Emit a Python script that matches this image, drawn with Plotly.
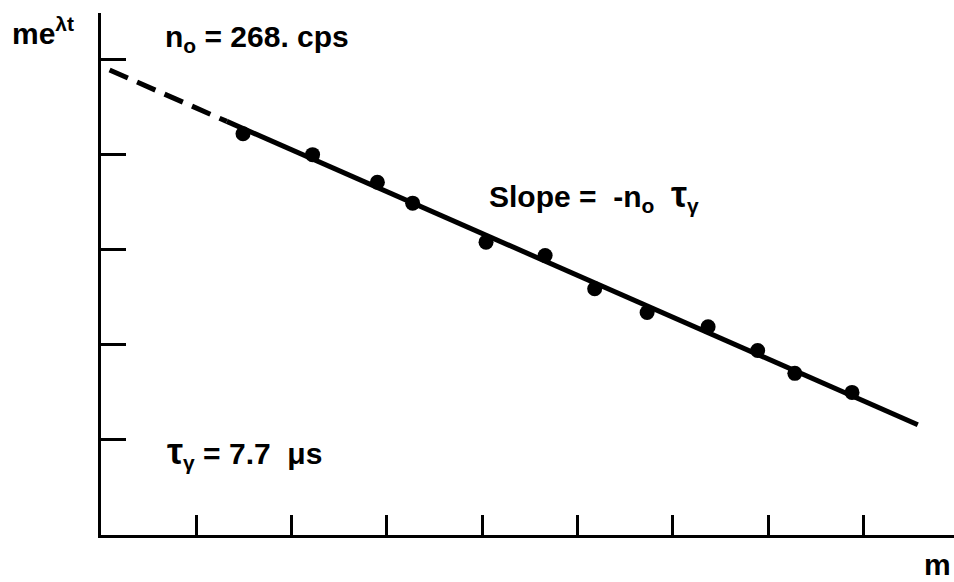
import plotly.graph_objects as go

# measured points (m on x, m e^{λt} on y, in units of tick spacing)
m_vals = [1.49, 2.22, 2.90, 3.27, 4.04, 4.66, 5.18, 5.73, 6.37, 6.89, 7.28, 7.88]
me_vals = [4.22, 4.00, 3.71, 3.49, 3.08, 2.94, 2.59, 2.34, 2.19, 1.94, 1.70, 1.50]

# fitted line: dashed extrapolation then solid fit
dash_x = [0.09, 1.32]
dash_y = [4.89, 4.35]
fit_x = [1.32, 8.57]
fit_y = [4.35, 1.16]

x_ticks = [1, 2, 3, 4, 5, 6, 7, 8]
y_ticks = [1, 2, 3, 4, 5]

FONT = "Liberation Sans"

fig = go.Figure()
fig.add_trace(go.Scatter(x=dash_x, y=dash_y, mode="lines",
                         line=dict(color="black", width=5, dash="20px,10px"),
                         showlegend=False, hoverinfo="skip"))
fig.add_trace(go.Scatter(x=fit_x, y=fit_y, mode="lines",
                         line=dict(color="black", width=5),
                         showlegend=False, hoverinfo="skip"))
fig.add_trace(go.Scatter(x=m_vals, y=me_vals, mode="markers",
                         marker=dict(color="black", size=15),
                         showlegend=False, hoverinfo="skip"))

fig.update_xaxes(range=[0, 8.95], showline=True, linecolor="black", linewidth=3,
                 ticks="inside", tickvals=x_ticks, ticklen=20, tickwidth=3,
                 tickcolor="black", showticklabels=False, showgrid=False,
                 zeroline=False)
fig.update_yaxes(range=[0, 5.49], showline=True, linecolor="black", linewidth=3,
                 ticks="inside", tickvals=y_ticks, ticklen=25, tickwidth=3,
                 tickcolor="black", showticklabels=False, showgrid=False,
                 zeroline=False)

def ann(text, x, y, size=30, xanchor="left", ref="paper"):
    fig.add_annotation(text=text, x=x, y=y, xref=ref, yref=ref,
                       xanchor=xanchor, yanchor="middle", showarrow=False,
                       font=dict(family=FONT, size=size, color="black", weight="bold"))

TAU = "<span style='font-size:36px'>τ</span>"

# paper coords: x = (px-101)/853, y = (535-py)/522
ann("me<sup>λt</sup>", -0.107, 0.965)
ann("n<sub>o</sub> = 268. cps", 0.073, 0.952)
ann("Slope =  -n<sub>o</sub>  " + TAU + "<sub>γ</sub>", 0.452, 0.65)
ann(TAU + "<sub>γ</sub> = 7.7  μs", 0.075, 0.158)
ann("m", 0.981, -0.057, xanchor="center")

fig.update_layout(width=954, height=582,
                  margin=dict(l=101, r=0, t=13, b=47),
                  plot_bgcolor="white", paper_bgcolor="white")

fig.write_html("out.html")
